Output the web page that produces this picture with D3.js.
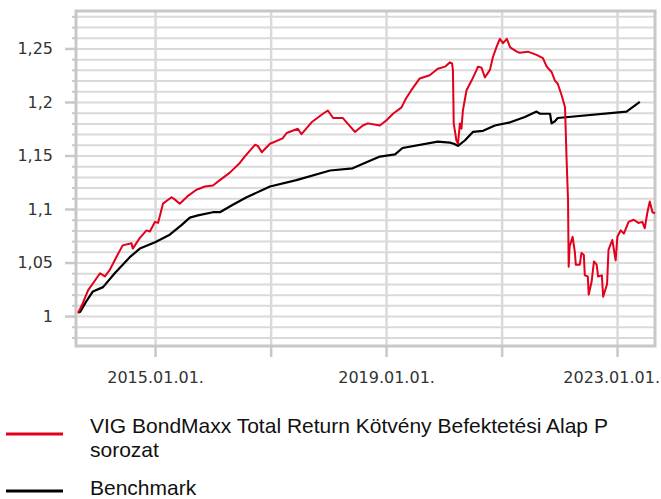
<!DOCTYPE html>
<html>
<head>
<meta charset="utf-8">
<script src="https://cdn.jsdelivr.net/npm/d3@7"></script>
<style>
  body { margin: 0; background: #fff; }
</style>
</head>
<body>
<div class="container"></div>
<script>
// chart data
const fundLabel = ["VIG BondMaxx Total Return Kötvény Befektetési Alap P", "sorozat"];
const benchLabel = ["Benchmark"];

const fundDates = ["2013-09-01","2013-10-01","2013-11-03","2013-12-16","2014-01-18","2014-02-18","2014-03-20","2014-05-01","2014-06-10","2014-08-05","2014-08-13","2014-09-27","2014-11-08","2014-11-29","2015-01-01","2015-01-20","2015-02-20","2015-04-15","2015-05-05","2015-06-06","2015-07-26","2015-09-20","2015-11-12","2016-01-02","2016-02-15","2016-04-18","2016-06-20","2016-07-21","2016-09-24","2016-10-12","2016-11-06","2016-12-28","2017-03-18","2017-04-12","2017-06-22","2017-07-15","2017-09-17","2017-11-28","2017-12-29","2018-01-31","2018-04-03","2018-06-18","2018-08-07","2018-09-08","2018-11-23","2019-01-04","2019-02-14","2019-04-09","2019-05-06","2019-06-10","2019-08-02","2019-10-04","2019-11-24","2020-01-09","2020-02-09","2020-02-22","2020-02-28","2020-03-04","2020-03-21","2020-03-31","2020-04-12","2020-04-22","2020-05-01","2020-05-24","2020-06-25","2020-07-27","2020-08-04","2020-08-27","2020-09-17","2020-10-19","2020-11-07","2020-12-01","2020-12-21","2021-01-10","2021-02-03","2021-02-24","2021-04-07","2021-04-25","2021-06-16","2021-08-10","2021-09-19","2021-10-13","2021-11-13","2021-12-04","2021-12-22","2022-01-16","2022-02-06","2022-02-15","2022-02-25","2022-03-01","2022-03-07","2022-03-26","2022-04-09","2022-04-15","2022-05-10","2022-05-21","2022-06-05","2022-06-11","2022-06-30","2022-07-06","2022-07-24","2022-08-08","2022-08-25","2022-09-03","2022-09-27","2022-10-05","2022-10-30","2022-11-08","2022-12-02","2022-12-10","2022-12-23","2023-01-03","2023-01-24","2023-02-13","2023-03-15","2023-04-16","2023-05-16","2023-06-10","2023-06-25","2023-07-12","2023-07-27","2023-08-13","2023-08-29"];
const fundValues = [1.003,1.012,1.024,1.033,1.040,1.037,1.043,1.055,1.066,1.068,1.063,1.073,1.080,1.079,1.088,1.087,1.105,1.111,1.109,1.105,1.112,1.118,1.121,1.122,1.127,1.134,1.143,1.149,1.160,1.159,1.153,1.161,1.166,1.171,1.175,1.170,1.181,1.189,1.192,1.185,1.185,1.172,1.178,1.180,1.178,1.183,1.189,1.195,1.203,1.211,1.222,1.225,1.231,1.233,1.237,1.236,1.230,1.180,1.164,1.161,1.180,1.175,1.192,1.211,1.220,1.230,1.233,1.232,1.223,1.230,1.242,1.252,1.259,1.255,1.259,1.251,1.247,1.246,1.247,1.244,1.241,1.233,1.228,1.220,1.217,1.206,1.195,1.150,1.108,1.046,1.065,1.074,1.060,1.048,1.048,1.059,1.057,1.038,1.037,1.020,1.032,1.051,1.048,1.037,1.038,1.018,1.030,1.062,1.071,1.064,1.052,1.074,1.080,1.077,1.088,1.090,1.087,1.088,1.082,1.097,1.107,1.097,1.096];

const benchDates = ["2013-09-01","2013-09-15","2013-10-20","2013-12-04","2014-02-06","2014-04-21","2014-07-25","2014-09-27","2015-01-01","2015-04-04","2015-06-17","2015-08-09","2015-09-29","2016-01-02","2016-02-15","2016-05-07","2016-08-02","2016-12-28","2017-06-13","2018-01-12","2018-06-04","2018-08-19","2018-11-23","2019-02-27","2019-04-15","2019-11-24","2020-02-09","2020-03-04","2020-03-31","2020-05-13","2020-07-03","2020-09-06","2020-11-19","2021-02-24","2021-05-28","2021-08-10","2021-09-01","2021-11-03","2021-11-13","2021-12-04","2021-12-22","2023-03-02","2023-05-25"];
const benchValues = [1.003,1.004,1.013,1.023,1.027,1.040,1.055,1.063,1.069,1.076,1.085,1.092,1.094,1.097,1.097,1.104,1.111,1.121,1.127,1.136,1.138,1.143,1.149,1.151,1.157,1.163,1.162,1.161,1.159,1.164,1.172,1.173,1.178,1.181,1.186,1.191,1.189,1.189,1.180,1.182,1.185,1.191,1.200];

// axis ticks
const xDomain = ["2013-08-19", "2023-08-29"];
const xGridDates = ["2015-01-01", "2017-01-01", "2019-01-01", "2021-01-01", "2023-01-01"];
const xLabelDates = ["2015-01-01", "2019-01-01", "2023-01-01"];
const yDomain = [0.972, 1.285];
const yMajorTicks = [1, 1.05, 1.1, 1.15, 1.2, 1.25];
const yMinorTicks = d3.range(98, 129).map(v => v / 100);

// sizes
const width = 661;
const height = 499;
const margin = { top: 11, right: 6, bottom: 153, left: 76 };
const plotBottom = height - margin.bottom;

const parseDate = d3.timeParse("%Y-%m-%d");
const keyDate = d3.timeFormat("%Y-%m-%d");
const fmtDate = d3.timeFormat("%Y.%m.%d.");
const huLocale = d3.formatLocale({ decimal: ",", thousands: " ", grouping: [3], currency: ["", " Ft"] });
const fmtValue = huLocale.format(".2~f");

const svg = d3.select(".container")
  .append("svg")
  .attr("width", width)
  .attr("height", height)
  .style("display", "block");

const xScale = d3.scaleTime()
  .domain(xDomain.map(parseDate))
  .range([margin.left, width - margin.right]);

const yScale = d3.scaleLinear()
  .domain(yDomain)
  .range([plotBottom, margin.top]);

const gridColor = "#dadada";
const frameColor = "#c8c8c8";

// horizontal grid lines every 0.01
svg.append("g")
  .attr("transform", `translate(${margin.left},0)`)
  .call(d3.axisLeft(yScale).tickValues(yMinorTicks).tickSize(-(width - margin.left - margin.right)).tickFormat(""))
  .call(g => g.select(".domain").remove())
  .call(g => g.selectAll("line").attr("stroke", gridColor).attr("stroke-width", 2));

// vertical grid lines every two years
svg.append("g")
  .attr("transform", `translate(0,${plotBottom})`)
  .call(d3.axisBottom(xScale).tickValues(xGridDates.map(parseDate)).tickSize(-(plotBottom - margin.top)).tickFormat(""))
  .call(g => g.select(".domain").remove())
  .call(g => g.selectAll("line").attr("stroke", gridColor).attr("stroke-width", 2.5));

// plot frame
svg.append("rect")
  .attr("x", margin.left)
  .attr("y", margin.top)
  .attr("width", width - margin.left - margin.right)
  .attr("height", plotBottom - margin.top)
  .attr("fill", "none")
  .attr("stroke", frameColor)
  .attr("stroke-width", 3);

// small ticks on the left for every grid line
svg.append("g")
  .attr("transform", `translate(${margin.left},0)`)
  .call(d3.axisLeft(yScale).tickValues(yMinorTicks).tickSize(4).tickFormat(""))
  .call(g => g.select(".domain").remove())
  .call(g => g.selectAll("line").attr("stroke", frameColor).attr("stroke-width", 2));

// y axis with labels
svg.append("g")
  .attr("transform", `translate(${margin.left},0)`)
  .call(d3.axisLeft(yScale).tickValues(yMajorTicks).tickSize(11).tickPadding(12).tickFormat(fmtValue))
  .call(g => g.select(".domain").remove())
  .call(g => g.selectAll("line").attr("stroke", frameColor).attr("stroke-width", 2.5))
  .call(g => g.selectAll("text")
    .attr("fill", "#333")
    .style("font-family", "'DejaVu Sans', Verdana, sans-serif")
    .style("font-size", "16px"));

// x axis with labels on every second tick
const labelSet = new Set(xLabelDates);
svg.append("g")
  .attr("transform", `translate(0,${plotBottom})`)
  .call(d3.axisBottom(xScale)
    .tickValues(xGridDates.map(parseDate))
    .tickSize(11)
    .tickPadding(15)
    .tickFormat(d => labelSet.has(keyDate(d)) ? fmtDate(d) : ""))
  .call(g => g.select(".domain").remove())
  .call(g => g.selectAll("line").attr("stroke", frameColor).attr("stroke-width", 2.5))
  .call(g => g.selectAll("text")
    .attr("fill", "#333")
    .style("font-family", "'DejaVu Sans', Verdana, sans-serif")
    .style("font-size", "16px"));

// keep the last label inside the picture
svg.selectAll(".tick text").each(function() {
  const box = this.getBBox();
  const tx = this.parentNode.transform.baseVal.consolidate();
  if (!tx) return;
  const right = tx.matrix.e + box.x + box.width;
  if (right > width - 1) d3.select(this).attr("x", width - 1 - right);
});

// lines
const line = d3.line()
  .x(d => xScale(d[0]))
  .y(d => yScale(d[1]));

const benchData = d3.zip(benchDates.map(parseDate), benchValues);
const fundData = d3.zip(fundDates.map(parseDate), fundValues);

svg.append("path")
  .datum(benchData)
  .attr("fill", "none")
  .attr("stroke", "#000")
  .attr("stroke-width", 2.2)
  .attr("stroke-linejoin", "round")
  .attr("d", line);

svg.append("path")
  .datum(fundData)
  .attr("fill", "none")
  .attr("stroke", "#e3001b")
  .attr("stroke-width", 2)
  .attr("stroke-linejoin", "round")
  .attr("d", line);

// legend
const legend = svg.append("g")
  .style("font-family", "'Liberation Sans', Arial, sans-serif")
  .style("font-size", "21px")
  .attr("fill", "#111");

const legendItems = [
  { color: "#e3001b", lines: fundLabel, y: 434, base: 432.5 },
  { color: "#000", lines: benchLabel, y: 491, base: 494.5 }
];

legendItems.forEach(item => {
  legend.append("line")
    .attr("x1", 6).attr("x2", 63)
    .attr("y1", item.y).attr("y2", item.y)
    .attr("stroke", item.color)
    .attr("stroke-width", 3);
  const text = legend.append("text")
    .attr("x", 90)
    .attr("y", item.base);
  item.lines.forEach((t, i) => {
    text.append("tspan")
      .attr("x", 90)
      .attr("dy", i === 0 ? 0 : 24)
      .text(t);
  });
});
</script>
</body>
</html>
